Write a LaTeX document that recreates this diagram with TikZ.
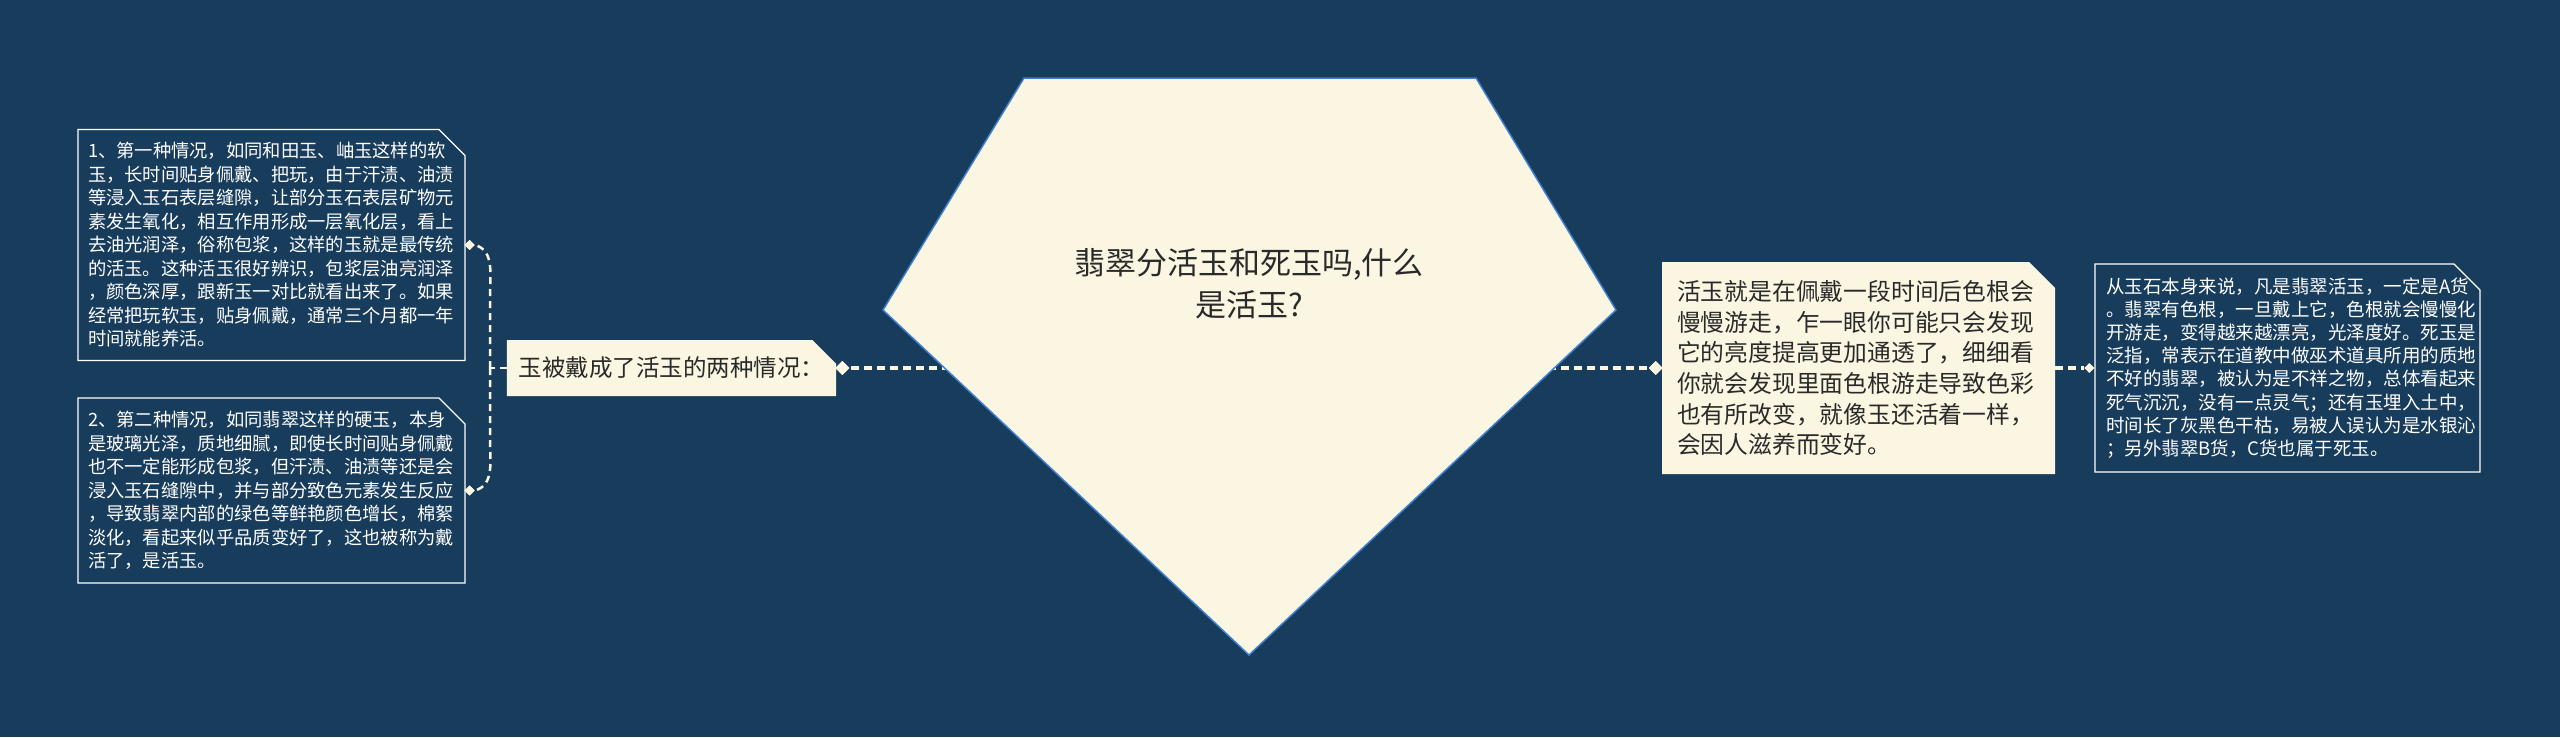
\documentclass[tikz,border=0pt]{standalone}
\usepackage{fontspec}
\setmainfont{Noto Sans CJK SC}
\usetikzlibrary{shapes.misc,shapes.geometric}
\definecolor{bg}{HTML}{173C5C}
\definecolor{cream}{HTML}{FBF6E2}
\definecolor{pblue}{HTML}{3F7FD0}
\definecolor{ink}{HTML}{2A2A2A}
\tikzset{
  chbox/.style={chamfered rectangle, chamfered rectangle corners=north east,
    chamfered rectangle xsep=13pt, chamfered rectangle ysep=13pt, inner ysep=0pt},
  darkbox/.style={chbox, draw=white, line width=1.3pt, fill=bg, text=white, align=left,
    font=\fontsize{18.3}{23.5}\selectfont},
  creambox/.style={chbox, fill=cream, draw=none, text=ink, align=left},
  conn/.style={draw=cream, line width=3.5pt, dash pattern=on 8pt off 5pt},
  thinconn/.style={draw=cream, line width=2.5pt, dash pattern=on 7pt off 5pt},
  dia/.style={diamond, fill=cream, draw=none, inner sep=0pt, minimum width=#1, minimum height=#1},
  dia/.default=14pt
}
\begin{document}
\begin{tikzpicture}[x=1pt,y=-1pt]
\useasboundingbox[fill=bg] (0,0) rectangle (2560,737);

% nodes
\node[creambox, minimum height=56pt, inner xsep=1pt,
  font=\fontsize{23.5}{28}\selectfont] (mid) at (671.5,368) {玉被戴成了活玉的两种情况：};

\node[darkbox, minimum height=228pt, inner xsep=-3pt, text width=367pt] (b1) at (271.5,245) {%
1、第一种情况，如同和田玉、岫玉这样的软\\
玉，长时间贴身佩戴、把玩，由于汗渍、油渍\\
等浸入玉石表层缝隙，让部分玉石表层矿物元\\
素发生氧化，相互作用形成一层氧化层，看上\\
去油光润泽，俗称包浆，这样的玉就是最传统\\
的活玉。这种活玉很好辨识，包浆层油亮润泽\\
，颜色深厚，跟新玉一对比就看出来了。如果\\
经常把玩软玉，贴身佩戴，通常三个月都一年\\
时间就能养活。};

\node[darkbox, minimum height=185pt, inner xsep=-3pt, text width=367pt] (b2) at (271.5,490.5) {%
2、第二种情况，如同翡翠这样的硬玉，本身\\
是玻璃光泽，质地细腻，即使长时间贴身佩戴\\
也不一定能形成包浆，但汗渍、油渍等还是会\\
浸入玉石缝隙中，并与部分致色元素发生反应\\
，导致翡翠内部的绿色等鲜艳颜色增长，棉絮\\
淡化，看起来似乎品质变好了，这也被称为戴\\
活了，是活玉。};

\node[creambox, minimum height=212pt, inner xsep=2pt, text width=363pt,
  font=\fontsize{23.8}{30.7}\selectfont] (b3) at (1858.5,368) {%
活玉就是在佩戴一段时间后色根会\\
慢慢游走，乍一眼你可能只会发现\\
它的亮度提高更加通透了，细细看\\
你就会发现里面色根游走导致色彩\\
也有所改变，就像玉还活着一样，\\
会因人滋养而变好。};

\node[darkbox, minimum height=208pt, inner xsep=-2pt, text width=363pt,
  font=\fontsize{18.5}{23.2}\selectfont] (b4) at (2287.5,368) {%
从玉石本身来说，凡是翡翠活玉，一定是A货\\
。翡翠有色根，一旦戴上它，色根就会慢慢化\\
开游走，变得越来越漂亮，光泽度好。死玉是\\
泛指，常表示在道教中做巫术道具所用的质地\\
不好的翡翠，被认为是不祥之物，总体看起来\\
死气沉沉，没有一点灵气；还有玉埋入土中，\\
时间长了灰黑色干枯，易被人误认为是水银沁\\
；另外翡翠B货，C货也属于死玉。};

% diamonds and junctions
\coordinate (pc) at (1249,368);
\coordinate (j) at (490,368);
\node[dia] (d1) at ([xshift=6pt]mid.east) {};
\node[dia] (d2) at ([xshift=-6pt]b3.west) {};
\node[dia=10pt] (d3) at ([xshift=-5pt]b4.west) {};
\node[dia=10pt] (d4) at ([xshift=4pt]b1.east) {};
\node[dia=10pt] (d5) at ([xshift=4pt]b2.east) {};

% connectors
\draw[conn] (pc) -- (d1);
\draw[conn] (pc) -- (d2);
\draw[conn] (b3.east) -- (d3);
\draw[thinconn] (mid.west) -- (j);
\draw[thinconn] (j) -- ([yshift=-50pt]j |- d4) to[out=90, in=-15] (d4.east);
\draw[thinconn] (j) -- ([yshift=50pt]j |- d5) to[out=-90, in=15] (d5.east);
\node[dia] at (d1) {};
\node[dia] at (d2) {};
\node[dia=10pt] at (d4) {};
\node[dia=10pt] at (d5) {};

% central pentagon
\path[draw=pblue, fill=cream, line width=1.5pt, line join=miter]
  (1024,78) -- (1476,78) -- (1616,310) -- (1249,655) -- (883,310) -- cycle;
\node[text=ink, align=center, font=\fontsize{31}{42}\selectfont] (title) at (1249,284)
  {翡翠分活玉和死玉吗,什么\\是活玉?};
\end{tikzpicture}
\end{document}
